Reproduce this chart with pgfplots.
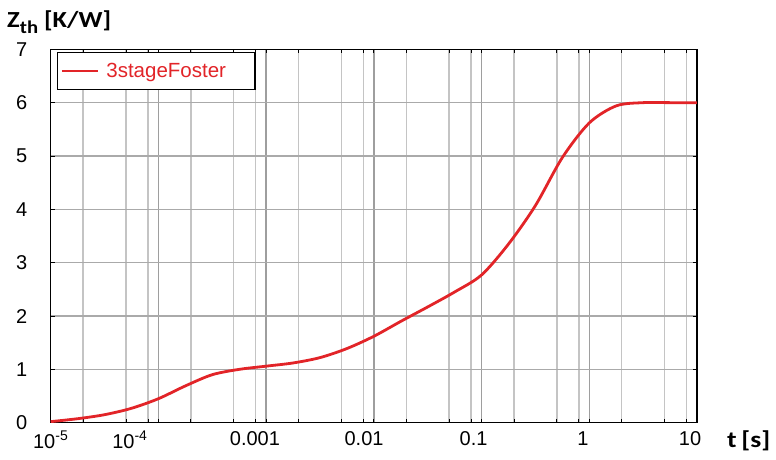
\documentclass[border=0pt]{standalone}
\usepackage{pgfplots}
\pgfplotsset{compat=1.18}
\usepackage{fontspec}
\setmainfont{Liberation Sans}
\newfontfamily\carlito{Carlito}
\definecolor{curvered}{RGB}{226,36,40}
\definecolor{gridlight}{RGB}{196,196,196}
\definecolor{griddark}{RGB}{158,158,158}
\definecolor{gridy}{RGB}{170,170,170}
\begin{document}
\begin{tikzpicture}
\useasboundingbox (-50.7pt,-36.3pt) rectangle (725.3pt,422.7pt);
\begin{axis}[
  at={(0pt,0pt)}, anchor=south west,
  scale only axis, width=646.3pt, height=373.4pt,
  xmode=log, log basis x=10,
  xmin=0.00001, xmax=10, ymin=0, ymax=7,
  axis line style={black, line width=1.4pt},
  xtick={0.00002,0.00005,0.00008,0.0002,0.0005,0.0008,0.002,0.005,0.008,0.02,0.05,0.08,0.2,0.5,0.8,2,5,8},
  xticklabels={},
  xmajorgrids=true,
  major x grid style={color=gridlight, line width=1.4pt},
  major x tick style={black, line width=0.8pt},
  minor xtick={0.0001,0.001,0.01,0.1,1},
  xminorgrids=true,
  minor x grid style={color=griddark, line width=1.4pt},
  minor x tick style={black, line width=0.8pt},
  minor tick length=4pt,
  extra x ticks={0.00001,0.0000544,0.000788,0.00811,0.0843,0.875,8.63},
  extra x tick labels={10\textsuperscript{-5},10\textsuperscript{-4},0.001,0.01,0.1,1,10},
  extra x tick style={xmajorgrids=false, major x tick style={draw=none}},
  ytick={0,1,2,3,4,5,6,7},
  yticklabels={0,1,2,3,4,5,6,7},
  ymajorgrids=true,
  major y grid style={color=gridy, line width=1.4pt},
  major y tick style={black, line width=0.8pt},
  major tick length=4pt,
  tick label style={font=\fontsize{20}{23}\selectfont},
  yticklabel style={xshift=-20pt},
  xticklabel style={yshift=-5pt},
  xlabel={\scalebox{1.2}[1]{\carlito\bfseries\fontsize{23}{26}\selectfont t\,[s]}},
  ylabel={\scalebox{1.15}[1]{\carlito\bfseries\fontsize{23}{26}\selectfont Z\raisebox{-0.28em}{\fontsize{18}{20}\selectfont th} [K/W]}},
  every axis x label/.style={at={(axis description cs:1,0)}, anchor=base west, inner sep=0pt, xshift=30pt, yshift=-24.3pt},
  every axis y label/.style={at={(axis description cs:0,1)}, anchor=base west, inner sep=0pt, xshift=-43.7pt, yshift=22.3pt},
  legend image code/.code={\draw[#1] (0pt,0pt) -- (36pt,0pt); \path (41pt,0pt);},
  legend style={at={(axis description cs:0.0098,0.9928)}, anchor=north west, draw=black, line width=1.1pt, fill=white,
    font=\fontsize{20.5}{23}\selectfont, text=curvered, inner xsep=3pt, inner ysep=8.5pt},
]
\addplot[curvered, line width=2.8pt, smooth] table {
t z
0.00001 0.02
0.0000178 0.075
0.0000316 0.15
0.0000562 0.27
0.0001 0.45
0.000178 0.69
0.000316 0.90
0.000562 1.00
0.001 1.06
0.00178 1.12
0.00316 1.22
0.00562 1.39
0.01 1.62
0.0178 1.90
0.0316 2.17
0.0562 2.45
0.1 2.77
0.178 3.35
0.316 4.07
0.562 4.97
1 5.62
1.78 5.94
3.16 6.0
5.62 6.0
10 6.0
};
\addlegendentry{3stageFoster\hspace*{24pt}}
\end{axis}
\end{tikzpicture}
\end{document}
